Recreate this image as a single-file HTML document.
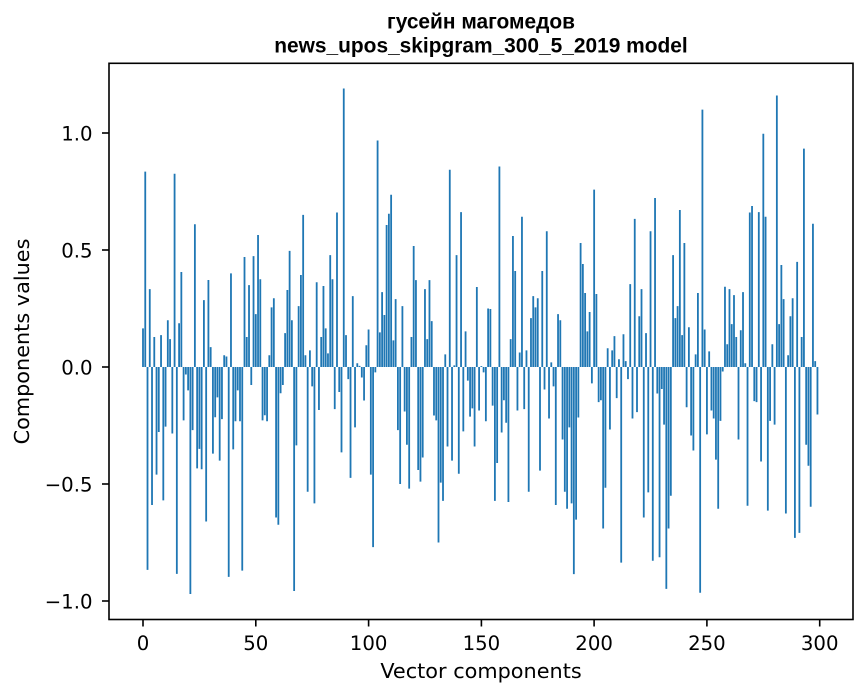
<!DOCTYPE html>
<html>
<head>
<meta charset="utf-8">
<style>
html,body{margin:0;padding:0;background:#fff;}
svg{display:block;}
.tk{font-family:"DejaVu Sans","Liberation Sans",sans-serif;font-size:19.7px;fill:#000;}
.lb{font-family:"DejaVu Sans","Liberation Sans",sans-serif;font-size:20.8px;fill:#000;}
.tt{font-family:"Liberation Sans","DejaVu Sans",sans-serif;font-size:20.9px;font-weight:bold;fill:#000;}
</style>
</head>
<body>
<svg width="867" height="696" viewBox="0 0 867 696" xmlns="http://www.w3.org/2000/svg">
<rect x="0" y="0" width="867" height="696" fill="#fff"/>
<g transform="translate(143,367) scale(2.2557,-234)">
<path fill="#1f77b4" d="M-.4 0h.8v.165h-.8zm1 0h.8v.835h-.8zm1 0h.8v-.867h-.8zm1 0h.8v.333h-.8zm1 0h.8v-.59h-.8zm1 0h.8v.128h-.8zm1 0h.8v-.46h-.8zm1 0h.8v-.278h-.8zm1 0h.8v.136h-.8zm1 0h.8v-.57h-.8zm1 0h.8v-.255h-.8zm1 0h.8v.2h-.8zm1 0h.8v.119h-.8zm1 0h.8v-.284h-.8zm1 0h.8v.826h-.8zm1 0h.8v-.884h-.8zm1 0h.8v.187h-.8zm1 0h.8v.406h-.8zm1 0h.8v-.228h-.8zm1 0h.8v-.032h-.8zm1 0h.8v-.1h-.8zm1 0h.8v-.97h-.8zm1 0h.8v-.27h-.8zm1 0h.8v.61h-.8zm1 0h.8v-.433h-.8zm1 0h.8v-.35h-.8zm1 0h.8v-.437h-.8zm1 0h.8v.286h-.8zm1 0h.8v-.66h-.8zm1 0h.8v.372h-.8zm1 0h.8v.085h-.8zm1 0h.8v-.37h-.8zm1 0h.8v-.215h-.8zm1 0h.8v-.13h-.8zm1 0h.8v-.4h-.8zm1 0h.8v-.223h-.8zm1 0h.8v.05h-.8zm1 0h.8v.045h-.8zm1 0h.8v-.897h-.8zm1 0h.8v.4h-.8zm1 0h.8v-.352h-.8zm1 0h.8v-.232h-.8zm1 0h.8v-.1h-.8zm1 0h.8v-.232h-.8zm1 0h.8v-.87h-.8zm1 0h.8v.47h-.8zm1 0h.8v.128h-.8zm1 0h.8v.35h-.8zm1 0h.8v-.077h-.8zm1 0h.8v.474h-.8zm1 0h.8v.226h-.8zm1 0h.8v.564h-.8zm1 0h.8v.375h-.8zm1 0h.8v-.228h-.8zm1 0h.8v-.206h-.8zm1 0h.8v-.232h-.8zm1 0h.8v.05h-.8zm1 0h.8v.255h-.8zm1 0h.8v.294h-.8zm1 0h.8v-.643h-.8zm1 0h.8v-.674h-.8zm1 0h.8v-.112h-.8zm1 0h.8v-.077h-.8zm1 0h.8v.145h-.8zm1 0h.8v.329h-.8zm1 0h.8v.496h-.8zm1 0h.8v.2h-.8zm1 0h.8v-.957h-.8zm1 0h.8v-.335h-.8zm1 0h.8v.26h-.8zm1 0h.8v.393h-.8zm1 0h.8v.65h-.8zm1 0h.8v.05h-.8zm1 0h.8v-.533h-.8zm1 0h.8v.071h-.8zm1 0h.8v-.083h-.8zm1 0h.8v-.583h-.8zm1 0h.8v.362h-.8zm1 0h.8v-.184h-.8zm1 0h.8v.128h-.8zm1 0h.8v.346h-.8zm1 0h.8v.165h-.8zm1 0h.8v.058h-.8zm1 0h.8v.478h-.8zm1 0h.8v.375h-.8zm1 0h.8v-.18h-.8zm1 0h.8v.66h-.8zm1 0h.8v-.107h-.8zm1 0h.8v-.365h-.8zm1 0h.8v1.19h-.8zm1 0h.8v.136h-.8zm1 0h.8v-.052h-.8zm1 0h.8v-.474h-.8zm1 0h.8v.303h-.8zm1 0h.8v-.258h-.8zm1 0h.8v.016h-.8zm1 0h.8v.005h-.8zm1 0h.8v-.045h-.8zm1 0h.8v-.143h-.8zm1 0h.8v.093h-.8zm1 0h.8v.16h-.8zm1 0h.8v-.46h-.8zm1 0h.8v-.77h-.8zm1 0h.8v-.023h-.8zm1 0h.8v.968h-.8zm1 0h.8v.148h-.8zm1 0h.8v.32h-.8zm1 0h.8v.222h-.8zm1 0h.8v.607h-.8zm1 0h.8v.655h-.8zm1 0h.8v.736h-.8zm1 0h.8v.114h-.8zm1 0h.8v.29h-.8zm1 0h.8v-.27h-.8zm1 0h.8v-.5h-.8zm1 0h.8v.26h-.8zm1 0h.8v-.19h-.8zm1 0h.8v-.332h-.8zm1 0h.8v-.52h-.8zm1 0h.8v.128h-.8zm1 0h.8v.517h-.8zm1 0h.8v.371h-.8zm1 0h.8v-.44h-.8zm1 0h.8v-.49h-.8zm1 0h.8v-.387h-.8zm1 0h.8v.333h-.8zm1 0h.8v.119h-.8zm1 0h.8v.371h-.8zm1 0h.8v.196h-.8zm1 0h.8v-.207h-.8zm1 0h.8v-.228h-.8zm1 0h.8v-.75h-.8zm1 0h.8v-.494h-.8zm1 0h.8v-.572h-.8zm1 0h.8v.054h-.8zm1 0h.8v-.34h-.8zm1 0h.8v.843h-.8zm1 0h.8v-.4h-.8zm1 0h.8v.007h-.8zm1 0h.8v.478h-.8zm1 0h.8v-.456h-.8zm1 0h.8v.662h-.8zm1 0h.8v-.275h-.8zm1 0h.8v.152h-.8zm1 0h.8v-.058h-.8zm1 0h.8v-.212h-.8zm1 0h.8v-.177h-.8zm1 0h.8v-.34h-.8zm1 0h.8v.342h-.8zm1 0h.8v-.186h-.8zm1 0h.8v.004h-.8zm1 0h.8v-.023h-.8zm1 0h.8v-.232h-.8zm1 0h.8v.25h-.8zm1 0h.8v.248h-.8zm1 0h.8v-.165h-.8zm1 0h.8v-.572h-.8zm1 0h.8v-.41h-.8zm1 0h.8v.857h-.8zm1 0h.8v-.28h-.8zm1 0h.8v-.142h-.8zm1 0h.8v-.238h-.8zm1 0h.8v-.577h-.8zm1 0h.8v.119h-.8zm1 0h.8v.56h-.8zm1 0h.8v.41h-.8zm1 0h.8v-.186h-.8zm1 0h.8v.062h-.8zm1 0h.8v.642h-.8zm1 0h.8v-.18h-.8zm1 0h.8v.071h-.8zm1 0h.8v-.533h-.8zm1 0h.8v.209h-.8zm1 0h.8v.303h-.8zm1 0h.8v.255h-.8zm1 0h.8v.294h-.8zm1 0h.8v-.443h-.8zm1 0h.8v.41h-.8zm1 0h.8v-.096h-.8zm1 0h.8v.58h-.8zm1 0h.8v-.22h-.8zm1 0h.8v.02h-.8zm1 0h.8v-.083h-.8zm1 0h.8v-.59h-.8zm1 0h.8v.226h-.8zm1 0h.8v.2h-.8zm1 0h.8v-.31h-.8zm1 0h.8v-.533h-.8zm1 0h.8v-.606h-.8zm1 0h.8v-.258h-.8zm1 0h.8v-.583h-.8zm1 0h.8v-.885h-.8zm1 0h.8v-.652h-.8zm1 0h.8v-.216h-.8zm1 0h.8v.53h-.8zm1 0h.8v.44h-.8zm1 0h.8v.316h-.8zm1 0h.8v.152h-.8zm1 0h.8v.235h-.8zm1 0h.8v-.07h-.8zm1 0h.8v.758h-.8zm1 0h.8v.312h-.8zm1 0h.8v-.15h-.8zm1 0h.8v-.142h-.8zm1 0h.8v-.69h-.8zm1 0h.8v-.516h-.8zm1 0h.8v.08h-.8zm1 0h.8v-.267h-.8zm1 0h.8v.071h-.8zm1 0h.8v.132h-.8zm1 0h.8v-.133h-.8zm1 0h.8v.033h-.8zm1 0h.8v-.836h-.8zm1 0h.8v.14h-.8zm1 0h.8v.025h-.8zm1 0h.8v-.052h-.8zm1 0h.8v.354h-.8zm1 0h.8v-.22h-.8zm1 0h.8v.633h-.8zm1 0h.8v-.193h-.8zm1 0h.8v.217h-.8zm1 0h.8v.333h-.8zm1 0h.8v-.643h-.8zm1 0h.8v.145h-.8zm1 0h.8v-.536h-.8zm1 0h.8v.58h-.8zm1 0h.8v-.828h-.8zm1 0h.8v.722h-.8zm1 0h.8v-.113h-.8zm1 0h.8v-.813h-.8zm1 0h.8v-.094h-.8zm1 0h.8v-.246h-.8zm1 0h.8v-.948h-.8zm1 0h.8v-.69h-.8zm1 0h.8v-.55h-.8zm1 0h.8v.478h-.8zm1 0h.8v.209h-.8zm1 0h.8v.26h-.8zm1 0h.8v.671h-.8zm1 0h.8v.136h-.8zm1 0h.8v.53h-.8zm1 0h.8v-.172h-.8zm1 0h.8v.17h-.8zm1 0h.8v-.293h-.8zm1 0h.8v-.357h-.8zm1 0h.8v.054h-.8zm1 0h.8v.316h-.8zm1 0h.8v-.965h-.8zm1 0h.8v1.1h-.8zm1 0h.8v.16h-.8zm1 0h.8v-.288h-.8zm1 0h.8v.067h-.8zm1 0h.8v-.186h-.8zm1 0h.8v-.22h-.8zm1 0h.8v-.396h-.8zm1 0h.8v-.606h-.8zm1 0h.8v-.23h-.8zm1 0h.8v-.019h-.8zm1 0h.8v.343h-.8zm1 0h.8v.097h-.8zm1 0h.8v.333h-.8zm1 0h.8v.183h-.8zm1 0h.8v.307h-.8zm1 0h.8v.128h-.8zm1 0h.8v-.31h-.8zm1 0h.8v.157h-.8zm1 0h.8v.32h-.8zm1 0h.8v.016h-.8zm1 0h.8v-.593h-.8zm1 0h.8v.66h-.8zm1 0h.8v.688h-.8zm1 0h.8v-.146h-.8zm1 0h.8v-.15h-.8zm1 0h.8v.662h-.8zm1 0h.8v-.404h-.8zm1 0h.8v.997h-.8zm1 0h.8v.642h-.8zm1 0h.8v-.614h-.8zm1 0h.8v-.23h-.8zm1 0h.8v.097h-.8zm1 0h.8v-.246h-.8zm1 0h.8v1.16h-.8zm1 0h.8v.183h-.8zm1 0h.8v.436h-.8zm1 0h.8v.29h-.8zm1 0h.8v-.626h-.8zm1 0h.8v.05h-.8zm1 0h.8v.217h-.8zm1 0h.8v.294h-.8zm1 0h.8v-.73h-.8zm1 0h.8v.449h-.8zm1 0h.8v-.709h-.8zm1 0h.8v.128h-.8zm1 0h.8v.933h-.8zm1 0h.8v-.332h-.8zm1 0h.8v-.422h-.8zm1 0h.8v-.597h-.8zm1 0h.8v.612h-.8zm1 0h.8v.025h-.8zm1 0h.8v-.203h-.8z"/>
</g>
<!-- spines -->
<rect x="109" y="63.3" width="744" height="556.2" fill="none" stroke="#000" stroke-width="1.6"/>
<!-- ticks -->
<g stroke="#000" stroke-width="1.6">
<line x1="143" y1="619.5" x2="143" y2="626.5"/>
<line x1="255.8" y1="619.5" x2="255.8" y2="626.5"/>
<line x1="368.6" y1="619.5" x2="368.6" y2="626.5"/>
<line x1="481.4" y1="619.5" x2="481.4" y2="626.5"/>
<line x1="594.1" y1="619.5" x2="594.1" y2="626.5"/>
<line x1="706.9" y1="619.5" x2="706.9" y2="626.5"/>
<line x1="819.7" y1="619.5" x2="819.7" y2="626.5"/>
<line x1="102" y1="133" x2="109" y2="133"/>
<line x1="102" y1="250" x2="109" y2="250"/>
<line x1="102" y1="367" x2="109" y2="367"/>
<line x1="102" y1="484" x2="109" y2="484"/>
<line x1="102" y1="601" x2="109" y2="601"/>
</g>
<g class="tk" text-anchor="middle">
<text x="143" y="650">0</text>
<text x="255.8" y="650">50</text>
<text x="368.6" y="650">100</text>
<text x="481.4" y="650">150</text>
<text x="594.1" y="650">200</text>
<text x="706.9" y="650">250</text>
<text x="819.7" y="650">300</text>
</g>
<g class="tk" text-anchor="end">
<text x="92.5" y="140.5">1.0</text>
<text x="92.5" y="257.5">0.5</text>
<text x="92.5" y="374.5">0.0</text>
<text x="92.5" y="491.5">−0.5</text>
<text x="92.5" y="608.5">−1.0</text>
</g>
<text class="lb" x="481" y="678" text-anchor="middle">Vector components</text>
<text class="lb" transform="translate(29,341.5) rotate(-90)" text-anchor="middle">Components values</text>
<text class="tt" x="481" y="28.5" text-anchor="middle">гусейн магомедов</text>
<text class="tt" x="481" y="52.5" text-anchor="middle">news_upos_skipgram_300_5_2019 model</text>
</svg>
</body>
</html>
